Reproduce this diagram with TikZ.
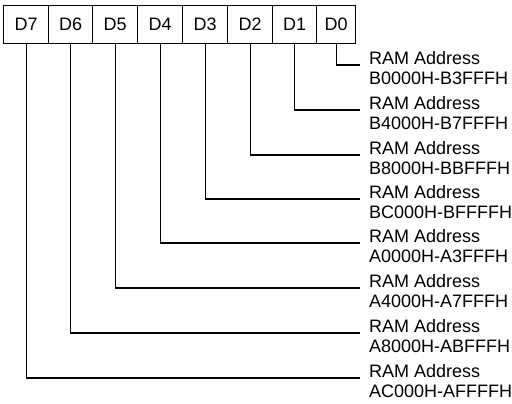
\documentclass[tikz,border=0pt]{standalone}
\usepackage{fontspec}
\setmainfont{Liberation Sans}
\begin{document}
\begin{tikzpicture}[x=1pt,y=-1pt,
  cell/.style={draw,line width=1.3pt,minimum height=38pt,inner sep=0pt,font=\fontsize{18}{20}\selectfont,anchor=north west},
  lbl/.style={anchor=north west,inner sep=0pt,align=left,font=\fontsize{18}{19.5}\selectfont},
  wire/.style={line width=1.3pt}]
\useasboundingbox (0,0) rectangle (512,404);
% register cells
\node[cell,minimum width=45pt] (d7) at (3,5) {D7};
\node[cell,minimum width=44pt] (d6) at (48,5) {D6};
\node[cell,minimum width=45pt] (d5) at (92,5) {D5};
\node[cell,minimum width=45pt] (d4) at (137,5) {D4};
\node[cell,minimum width=45pt] (d3) at (182,5) {D3};
\node[cell,minimum width=45pt] (d2) at (227,5) {D2};
\node[cell,minimum width=44pt] (d1) at (272,5) {D1};
\node[cell,minimum width=39pt] (d0) at (316,5) {D0};
% labels
\node[lbl] (t0) at (369,51.5) {RAM Address\\B0000H-B3FFFH};
\node[lbl] (t1) at (369,96.5) {RAM Address\\B4000H-B7FFFH};
\node[lbl] (t2) at (369,141.5) {RAM Address\\B8000H-BBFFFH};
\node[lbl] (t3) at (369,185.5) {RAM Address\\BC000H-BFFFFH};
\node[lbl] (t4) at (369,229.5) {RAM Address\\A0000H-A3FFFH};
\node[lbl] (t5) at (369,274.5) {RAM Address\\A4000H-A7FFFH};
\node[lbl] (t6) at (369,319.5) {RAM Address\\A8000H-ABFFFH};
\node[lbl] (t7) at (369,364.5) {RAM Address\\AC000H-AFFFFH};
% wire ends
\coordinate (e0) at (360,65);
\coordinate (e1) at (360,110);
\coordinate (e2) at (360,155);
\coordinate (e3) at (360,199);
\coordinate (e4) at (360,243);
\coordinate (e5) at (360,288);
\coordinate (e6) at (360,333);
\coordinate (e7) at (360,378);
% wires
\draw[wire] (d0.south) |- (e0);
\draw[wire] (d1.south) |- (e1);
\draw[wire] (d2.south) |- (e2);
\draw[wire] (d3.south) |- (e3);
\draw[wire] (d4.south) |- (e4);
\draw[wire] (d5.south) |- (e5);
\draw[wire] (d6.south) |- (e6);
\draw[wire] (d7.south) |- (e7);
\end{tikzpicture}
\end{document}
